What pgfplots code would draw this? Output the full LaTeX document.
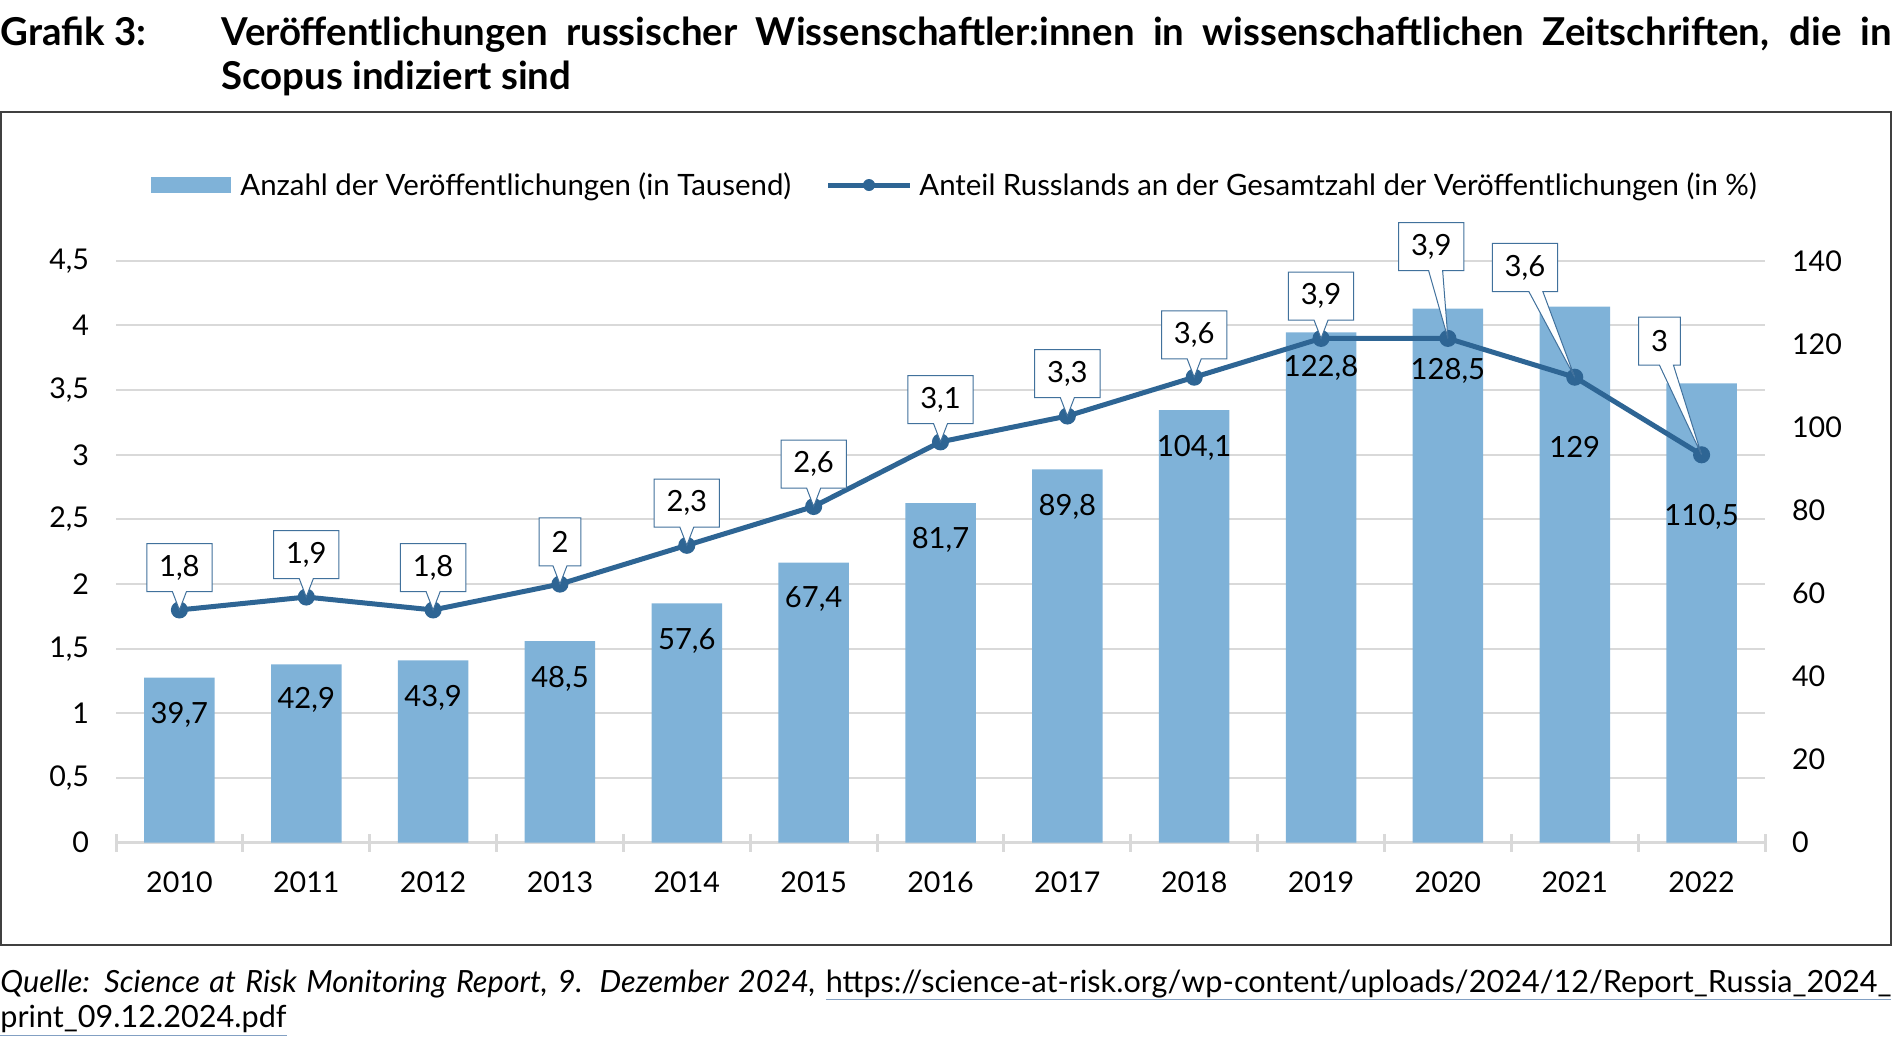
\documentclass[border=0pt]{standalone}
\usepackage{fontspec}
\setmainfont{Lato}
\usepackage{pgfplots}
\pgfplotsset{compat=1.18}
\usepackage{pgfplotstable}
\usetikzlibrary{shapes.callouts}

\definecolor{barblue}{RGB}{127,178,216}
\definecolor{lineblue}{RGB}{46,101,148}
\definecolor{boxblue}{RGB}{65,113,156}
\definecolor{gridgray}{RGB}{217,217,217}
\definecolor{urlblue}{RGB}{130,160,195}

\newcommand\lbl{\fontsize{14.6}{17}\selectfont}
\newcommand\tck{\fontsize{14.3}{17}\selectfont}
\newcommand\lgd{\fontsize{14.7}{17}\selectfont}
\newcommand\ttl{\fontsize{19.2}{23}\selectfont\bfseries}
\newcommand\src{\fontsize{15.3}{18}\selectfont}
\newsavebox\ubox
\newcommand\ul[2]{\sbox\ubox{#2}\rlap{\color{urlblue}\rule[-#1]{\wd\ubox}{0.6pt}}\usebox\ubox}

\pgfplotsset{/pgf/number format/.cd, use comma, assume math mode=true}

\pgfplotstableread{
x year val ly share bdx bdy
0 2010 39.7 30.8 1.8 0 21.15
1 2011 42.9 34.3 1.9 0 21.15
2 2012 43.9 34.9 1.8 0 21.15
3 2013 48.5 39.5 2 0 21.15
4 2014 57.6 48.5 2.3 0 21.15
5 2015 67.4 58.7 2.6 0 21.15
6 2016 81.7 72.9 3.1 0 21.15
7 2017 89.8 80.7 3.3 0 21.15
8 2018 104.1 95.0 3.6 0 21.15
9 2019 122.8 114.2 3.9 0 21.15
10 2020 128.5 113.6 3.9 -8.3 45.85
11 2021 129 95.3 3.6 -24.9 54.85
12 2022 110.5 78.4 3 -21 56.8
}\data

\begin{document}
\begin{tikzpicture}
\begin{scope}[x=0.5pt,y=-0.5pt]
\useasboundingbox (0,0) rectangle (1893,1046);
\draw[black!75, line width=0.6pt] (1,112) rectangle (1891,945);
% title
\node[anchor=base west, inner sep=0pt, font=\ttl] at (0,45) {Grafik 3:};
\node[anchor=base west, inner sep=0pt, font=\ttl] at (221,45) {\makebox[835pt][s]{Veröffentlichungen russischer Wissenschaftler:innen in wissenschaftlichen Zeitschriften, die in}};
\node[anchor=base west, inner sep=0pt, font=\ttl] at (221,89) {Scopus indiziert sind};
% legend
\fill[barblue] (151,177) rectangle (230.6,193);
\node[anchor=base west, inner sep=0pt, font=\lgd] at (240,195) {Anzahl der Veröffentlichungen (in Tausend)};
\draw[lineblue, line width=2.5pt] (828,185) -- (910,185);
\fill[lineblue] (869,185) circle (3pt);
\node[anchor=base west, inner sep=0pt, font=\lgd] at (919,195) {Anteil Russlands an der Gesamtzahl der Veröffentlichungen (in \%)};
% source
\node[anchor=base west, inner sep=0pt, font=\src] at (0,992) {\makebox[945.5pt][s]{\itshape Quelle: Science at Risk Monitoring Report, 9. Dezember 2024, \upshape\ul{4pt}{https://science-at-risk.org/wp-content/uploads/2024/12/Report\_Russia\_2024\_}}};
\node[anchor=base west, inner sep=0pt, font=\src] at (0,1027) {\ul{4.5pt}{print\_09.12.2024.pdf}};
\end{scope}

\begin{axis}[
  at={(58pt,-421.35pt)}, anchor=south west,
  scale only axis, width=824.5pt, height=290.95pt,
  xmin=-0.5, xmax=12.5, ymin=0, ymax=140,
  separate axis lines,
  axis x line*=bottom, axis y line*=right,
  x axis line style={gridgray, line width=1.5pt},
  y axis line style={draw=none},
  xtick={0,...,12},
  xticklabels from table={\data}{year},
  major tick length=0pt,
  tick style={gridgray, line width=1.5pt},
  extra x ticks={-0.5,0.5,...,12.5},
  extra x tick labels={},
  extra x tick style={major tick length=9pt, tick align=center},
  ytick={0,20,...,140},
  ytick style={draw=none},
  extra y ticks={15.5556,31.1111,46.6667,62.2222,77.7778,93.3333,108.8889,124.4444,140},
  extra y tick labels={},
  extra y tick style={grid=major, major grid style={gridgray, line width=1pt}},
  x tick label style={font=\tck, anchor=north, yshift=-11pt},
  y tick label style={font=\tck, anchor=west, xshift=10pt},
  clip=false,
]
\addplot[ybar, bar width=35.25pt, fill=barblue, draw=none] table[x=x,y=val]{\data};
\addplot[draw=none, nodes near coords, nodes near coords align={center}, point meta=\thisrow{val},
  every node near coord/.append style={font=\lbl, text=black, inner sep=0pt}] table[x=x,y=ly]{\data};
\end{axis}

\begin{axis}[
  at={(58pt,-421.35pt)}, anchor=south west,
  scale only axis, width=824.5pt, height=290.95pt,
  xmin=-0.5, xmax=12.5, ymin=0, ymax=4.5,
  axis line style={draw=none},
  xtick=\empty,
  ytick={0,0.5,1,1.5,2,2.5,3,3.5,4,4.5},
  ytick style={draw=none},
  yticklabel pos=left,
  y tick label style={font=\tck, anchor=east, xshift=-10pt},
  clip=false,
]
\addplot[lineblue, line width=2.5pt, mark=*, mark size=3pt, mark options={fill=lineblue, draw=lineblue}] table[x=x,y=share]{\data};
\pgfplotsinvokeforeach{0,...,12}{
  \pgfplotstablegetelem{#1}{share}\of\data
  \edef\tmp{\noexpand\coordinate (p#1) at (axis cs:#1,\pgfplotsretval);}\tmp
}
\end{axis}

% callout labels of the share series
\foreach \i in {0,...,12}{
  \pgfplotstablegetelem{\i}{share}\of\data \let\sh\pgfplotsretval
  \pgfplotstablegetelem{\i}{bdx}\of\data \let\dx\pgfplotsretval
  \pgfplotstablegetelem{\i}{bdy}\of\data \let\dy\pgfplotsretval
  \node[rectangle callout, draw=boxblue, fill=white, line width=0.5pt, font=\lbl, text=black,
    inner xsep=6.2pt, inner ysep=0pt, minimum height=24pt, callout pointer width=7pt,
    callout absolute pointer={(p\i)}] at ([xshift=\dx pt, yshift=\dy pt]p\i) {\pgfmathprintnumber{\sh}};
}
\end{tikzpicture}
\end{document}
